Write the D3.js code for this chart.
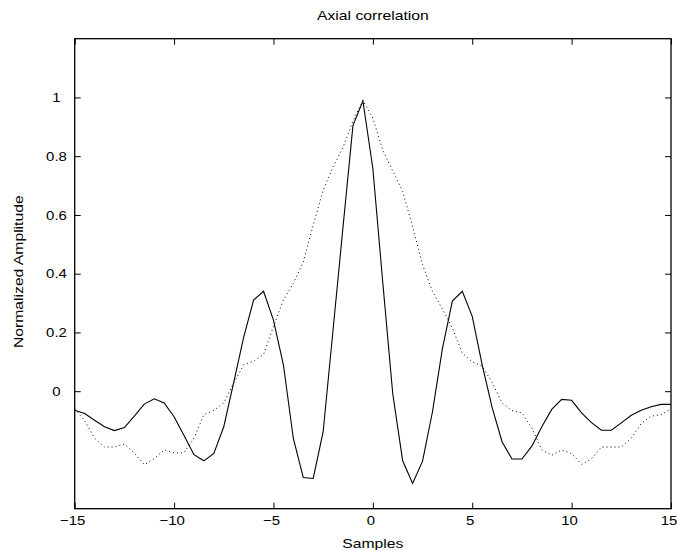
<!DOCTYPE html>
<html>
<head>
<meta charset="utf-8">
<script src="https://cdn.jsdelivr.net/npm/d3@7"></script>
<style>
  html, body { margin: 0; padding: 0; background: #fff; }
  svg { display: block; }
  text { font-family: "Liberation Sans", Arial, Helvetica, sans-serif; fill: #000; }
</style>
</head>
<body>
<script>
// ---- data ----
const samples = d3.range(-15, 15.0001, 0.5);
const solidValues = [
  -0.065, -0.076, -0.099, -0.121, -0.134, -0.124, -0.085, -0.044, -0.026, -0.040,
  -0.087, -0.151, -0.216, -0.237, -0.212, -0.121, 0.030, 0.183, 0.310, 0.340,
  0.242, 0.090, -0.161, -0.294, -0.297, -0.138, 0.210, 0.560, 0.905, 0.988,
  0.758, 0.370, -0.008, -0.237, -0.314, -0.238, -0.070, 0.145, 0.307, 0.340,
  0.255, 0.090, -0.055, -0.172, -0.231, -0.231, -0.187, -0.121, -0.062, -0.028,
  -0.031, -0.074, -0.107, -0.133, -0.133, -0.108, -0.082, -0.065, -0.053, -0.045,
  -0.045
];
const dottedValues = [
  -0.060, -0.100, -0.160, -0.190, -0.190, -0.180, -0.210, -0.250, -0.230, -0.200,
  -0.210, -0.210, -0.160, -0.080, -0.065, -0.040, 0.028, 0.090, 0.102, 0.125,
  0.220, 0.310, 0.367, 0.440, 0.565, 0.684, 0.764, 0.830, 0.920, 0.990,
  0.930, 0.820, 0.750, 0.680, 0.560, 0.430, 0.340, 0.280, 0.215, 0.130,
  0.100, 0.085, 0.030, -0.040, -0.066, -0.074, -0.125, -0.200, -0.218, -0.200,
  -0.212, -0.249, -0.230, -0.190, -0.190, -0.190, -0.160, -0.110, -0.085, -0.080,
  -0.060
];
const xTicks = [-15, -10, -5, 0, 5, 10, 15];
const yTicks = [0, 0.2, 0.4, 0.6, 0.8, 1];
const xDomain = [-15, 15];
const yDomain = [-0.4, 1.2];
const titleText = "Axial correlation";
const xLabelText = "Samples";
const yLabelText = "Normalized Amplitude";

// ---- layout ----
const W = 677, H = 550;
const mLeft = 74.7, mRight = 671, mTop = 38.7, mBottom = 508.7;
const FS = 13, SX = 1.15, SXL = 1.21;

const svg = d3.select("body").append("svg")
  .attr("width", W).attr("height", H);
svg.append("rect").attr("width", W).attr("height", H).attr("fill", "#fff");

const x = d3.scaleLinear().domain(xDomain).range([mLeft, mRight]);
const y = d3.scaleLinear().domain(yDomain).range([mBottom, mTop]);

const fmtX = d => (d < 0 ? "\u2212" + Math.abs(d) : String(d));
const fmtY = d => String(+d.toFixed(1));

// lines
const line = d3.line().x((d, i) => x(samples[i])).y(d => y(d));

svg.append("path").datum(dottedValues)
  .attr("d", line)
  .attr("fill", "none")
  .attr("stroke", "#000")
  .attr("stroke-width", 1)
  .attr("stroke-dasharray", "1 3");

svg.append("path").datum(solidValues)
  .attr("d", line)
  .attr("fill", "none")
  .attr("stroke", "#000")
  .attr("stroke-width", 1.1)
  .attr("stroke-linejoin", "miter");

// axes (ticks inside)
const gB = svg.append("g").attr("transform", `translate(0,${mBottom})`)
  .call(d3.axisBottom(x).tickValues(xTicks).tickFormat(fmtX).tickSize(-6).tickSizeOuter(0).tickPadding(7.5));
const gT = svg.append("g").attr("transform", `translate(0,${mTop})`)
  .call(d3.axisTop(x).tickValues(xTicks).tickFormat("").tickSize(-6).tickSizeOuter(0));
const gL = svg.append("g").attr("transform", `translate(${mLeft},0)`)
  .call(d3.axisLeft(y).tickValues(yTicks).tickFormat(fmtY).tickSize(-6).tickSizeOuter(0));
const gR = svg.append("g").attr("transform", `translate(${mRight},0)`)
  .call(d3.axisRight(y).tickValues(yTicks).tickFormat("").tickSize(-6).tickSizeOuter(0));

[gB, gT, gL, gR].forEach(g => {
  g.select(".domain").remove();
  g.selectAll(".tick line").attr("stroke", "#000").attr("stroke-width", 1);
});

gB.selectAll(".tick text")
  .attr("font-size", FS)
  .attr("font-family", null)
  .attr("x", -2.5 / SX)
  .attr("transform", `scale(${SX},1)`);

gL.selectAll(".tick text")
  .attr("font-size", FS)
  .attr("font-family", null)
  .attr("text-anchor", "middle")
  .attr("x", -18.2 / SX)
  .attr("transform", `scale(${SX},1)`);

// frame
svg.append("rect")
  .attr("x", mLeft).attr("y", mTop)
  .attr("width", mRight - mLeft).attr("height", mBottom - mTop)
  .attr("fill", "none").attr("stroke", "#000").attr("stroke-width", 1.3);

// title & labels
svg.append("g").attr("transform", `translate(${(mLeft + mRight) / 2},19.5) scale(${SXL},1)`)
  .append("text").attr("text-anchor", "middle").attr("font-size", FS).text(titleText);

svg.append("g").attr("transform", `translate(${(mLeft + mRight) / 2},547.5) scale(${SXL},1)`)
  .append("text").attr("text-anchor", "middle").attr("font-size", FS).text(xLabelText);

svg.append("g").attr("transform", `translate(22.5,271.7) rotate(-90) scale(${SXL},1)`)
  .append("text").attr("text-anchor", "middle").attr("font-size", FS).text(yLabelText);
</script>
</body>
</html>
